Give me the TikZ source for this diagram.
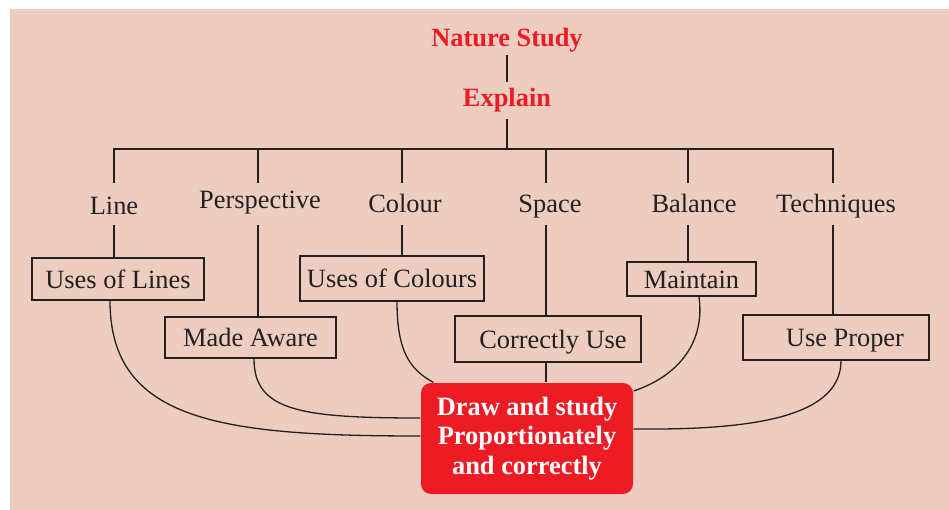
\documentclass[tikz,border=0pt]{standalone}
\usepackage{fontspec}
\setmainfont{Liberation Serif}
\usetikzlibrary{positioning}
\definecolor{bgpink}{HTML}{EDCDC0}
\definecolor{natred}{HTML}{ED1C24}
\definecolor{ink}{HTML}{231F20}
\begin{document}
\begin{tikzpicture}[x=1pt,y=-1pt,line width=1.3pt,color=ink,
        txt/.style={font=\fontsize{26.4}{29.5}\selectfont,text=ink},
        head/.style={font=\fontsize{26.4}{29.5}\selectfont\bfseries,text=natred,
            inner xsep=2pt,text height=18pt,text depth=5pt},
        topic/.style={txt,inner sep=0pt,minimum height=40pt,
            text height=18pt,text depth=0pt},
        ubox/.style={txt,draw=ink,inner sep=0pt,text height=18pt,text depth=0pt},
        goalbox/.style={fill=natred,rounded corners=10pt,text=white,align=center,
            font=\fontsize{26.4}{29.5}\selectfont\bfseries,inner sep=0pt,
            minimum width=212pt,minimum height=111pt}]
    \fill[bgpink] (10,9) rectangle (949,510);
    \useasboundingbox (0,0) rectangle (949,510);

    \node[head,inner ysep=2pt] (nature) at (507,40.5) {Nature Study};
    \node[head,inner ysep=6pt] (explain) at (507,100.5) {Explain};
    \coordinate (hub) at (507,149);

    \node[topic] (line) at (114,204) {\raisebox{-2pt}{Line}};
    \node[topic] (persp) at (258,204) {\hspace*{4pt}\raisebox{4pt}{Perspective}};
    \node[topic] (colour) at (402,204) {\hspace*{6pt}Colour};
    \node[topic] (space) at (546,204) {\hspace*{8pt}Space};
    \node[topic] (balance) at (688,204) {\hspace*{12pt}Balance};
    \node[topic] (techniques) at (833,204) {\hspace*{6pt}Techniques};

    \node[ubox,minimum width=172pt,minimum height=42pt] (lines) at (118,279) {Uses of Lines};
    \node[ubox,minimum width=171pt,minimum height=41pt] (aware) at (250.5,337.5) {Made Aware};
    \node[ubox,minimum width=184pt,minimum height=45pt] (colours) at (392,278.5) {Uses of Colours};
    \node[ubox,minimum width=186pt,minimum height=46pt] (correct) at (548,339) {\hspace*{10pt}Correctly Use};
    \node[ubox,minimum width=129pt,minimum height=34pt] (maintain) at (691.5,279) {Maintain};
    \node[ubox,minimum width=186pt,minimum height=45pt] (proper) at (836,337.5) {\hspace*{18pt}Use Proper};

    \node[goalbox] (goal) at (527,438.5) {Draw and study\\Proportionately\\and correctly};

    % tree at the top
    \draw (nature) -- (explain);
    \draw (explain) -- (hub);
    \draw (line.north) |- (hub) -| (techniques.north);
    \foreach \n in {persp,colour,space,balance}
        \draw (\n.north) -- (\n.north |- hub);
    \foreach \n/\b in {line/lines,persp/aware,colour/colours,space/correct,
            balance/maintain,techniques/proper}
        \draw (\n.south) -- (\n.south |- \b.north);

    % links into the result
    \draw (space.south |- correct.south) -- (space.south |- goal.north);
    \draw ([xshift=-8pt]lines.south) .. controls +(0,120) and +(-201,0) .. ([yshift=2.5pt]goal.west);
    \draw ([xshift=3.5pt]aware.south) .. controls +(0,52) and +(-121,0) .. ([yshift=20.5pt]goal.west);
    \draw ([xshift=5pt]colours.south) .. controls +(0,49) and +(-24,-13) .. ([xshift=13pt]goal.north west);
    \draw ([xshift=7.5pt]maintain.south) .. controls +(6,44) and +(47,-16) .. ([yshift=47.5pt]goal.east);
    \draw ([xshift=5pt]proper.south) .. controls +(0,60) and +(107,1) .. ([yshift=9.5pt]goal.east);
\end{tikzpicture}
\end{document}
